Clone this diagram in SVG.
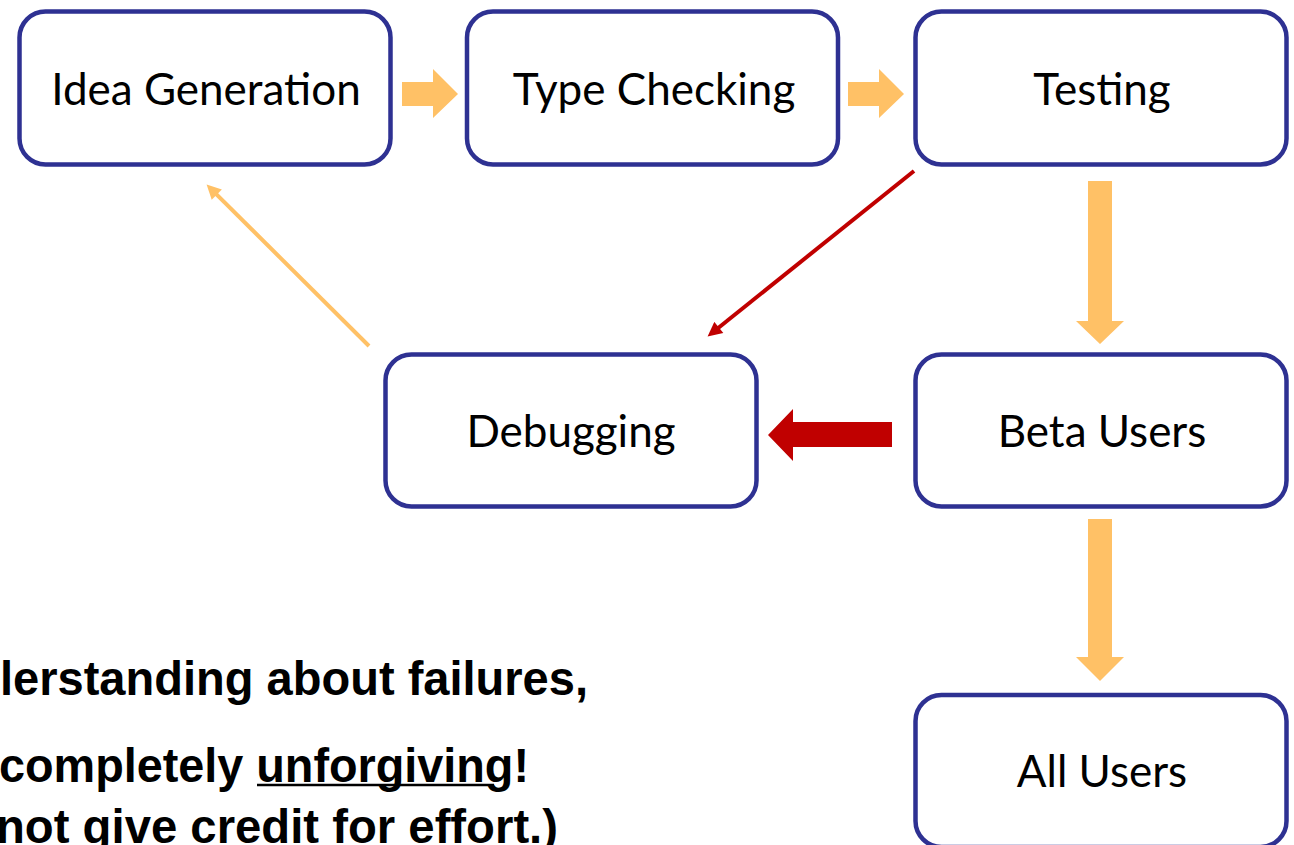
<svg xmlns="http://www.w3.org/2000/svg" width="1294" height="845" viewBox="0 0 1294 845">
<style>
.box{fill:#fff;stroke:#2E3192;stroke-width:4.5}
.lbl{font-family:Lato,"Open Sans",sans-serif;font-size:44px;fill:#000;text-anchor:middle}
.blk{fill:#FFC166}
.red{fill:#C00000}
.note{font-family:"Liberation Sans Narrow","Liberation Sans",sans-serif;font-weight:bold;font-size:48px;fill:#000}
</style>
<defs>
<marker id="ahO" viewBox="0 0 10 10" refX="5" refY="5" markerWidth="4" markerHeight="3.6" orient="auto" markerUnits="strokeWidth"><path d="M0,0 L10,5 L0,10 Z" fill="#FFC166"/></marker>
<marker id="ahR" viewBox="0 0 10 10" refX="5" refY="5" markerWidth="4" markerHeight="3.6" orient="auto" markerUnits="strokeWidth"><path d="M0,0 L10,5 L0,10 Z" fill="#C00000"/></marker>
</defs>
<g id="connectors">
<polygon class="blk" points="402,82 433,82 433,69 458,94 433,118 433,106 402,106"/>
<polygon class="blk" points="848,82 879,82 879,69 904,94 879,118 879,106 848,106"/>
<polygon class="blk" points="1088,181 1112,181 1112,321 1124,321 1100,344 1076,321 1088,321"/>
<polygon class="blk" points="1088,519 1112,519 1112,657 1124,657 1100,681 1076,657 1088,657"/>
<polygon class="red" points="892,422 793,422 793,409 768,435 793,461 793,447 892,447"/>
<line x1="914" y1="171" x2="713.2" y2="332" stroke="#C00000" stroke-width="4" marker-end="url(#ahR)"/>
<line x1="369" y1="346" x2="211.7" y2="189.6" stroke="#FFC166" stroke-width="4" marker-end="url(#ahO)"/>
</g>
<g id="idea"><rect class="box" x="19.5" y="11.5" width="371" height="153" rx="26"/><text class="lbl" x="206" y="105">Idea Generation</text></g>
<g id="type"><rect class="box" x="467" y="11.5" width="371" height="153" rx="26"/><text class="lbl" x="654" y="105">Type Checking</text></g>
<g id="testing"><rect class="box" x="915.5" y="11.5" width="371" height="153" rx="26"/><text class="lbl" x="1102" y="105">Testing</text></g>
<g id="debugging"><rect class="box" x="385.5" y="354.5" width="371" height="152" rx="26"/><text class="lbl" x="571" y="447">Debugging</text></g>
<g id="beta"><rect class="box" x="915.5" y="354.5" width="371" height="152" rx="26"/><text class="lbl" x="1102" y="447">Beta Users</text></g>
<g id="all"><rect class="box" x="915.5" y="695" width="371" height="152" rx="26"/><text class="lbl" x="1102" y="787">All Users</text></g>
<g id="notes">
<text class="note" x="0" y="695" textLength="588" lengthAdjust="spacingAndGlyphs">lerstanding about failures,</text>
<text class="note" x="-1" y="782" textLength="530" lengthAdjust="spacingAndGlyphs">completely unforgiving!</text>
<line x1="257" y1="785" x2="494" y2="785" stroke="#000" stroke-width="2.5"/>
<text class="note" x="-4" y="843" textLength="562" lengthAdjust="spacingAndGlyphs">not give credit for effort.)</text>
</g>
</svg>
